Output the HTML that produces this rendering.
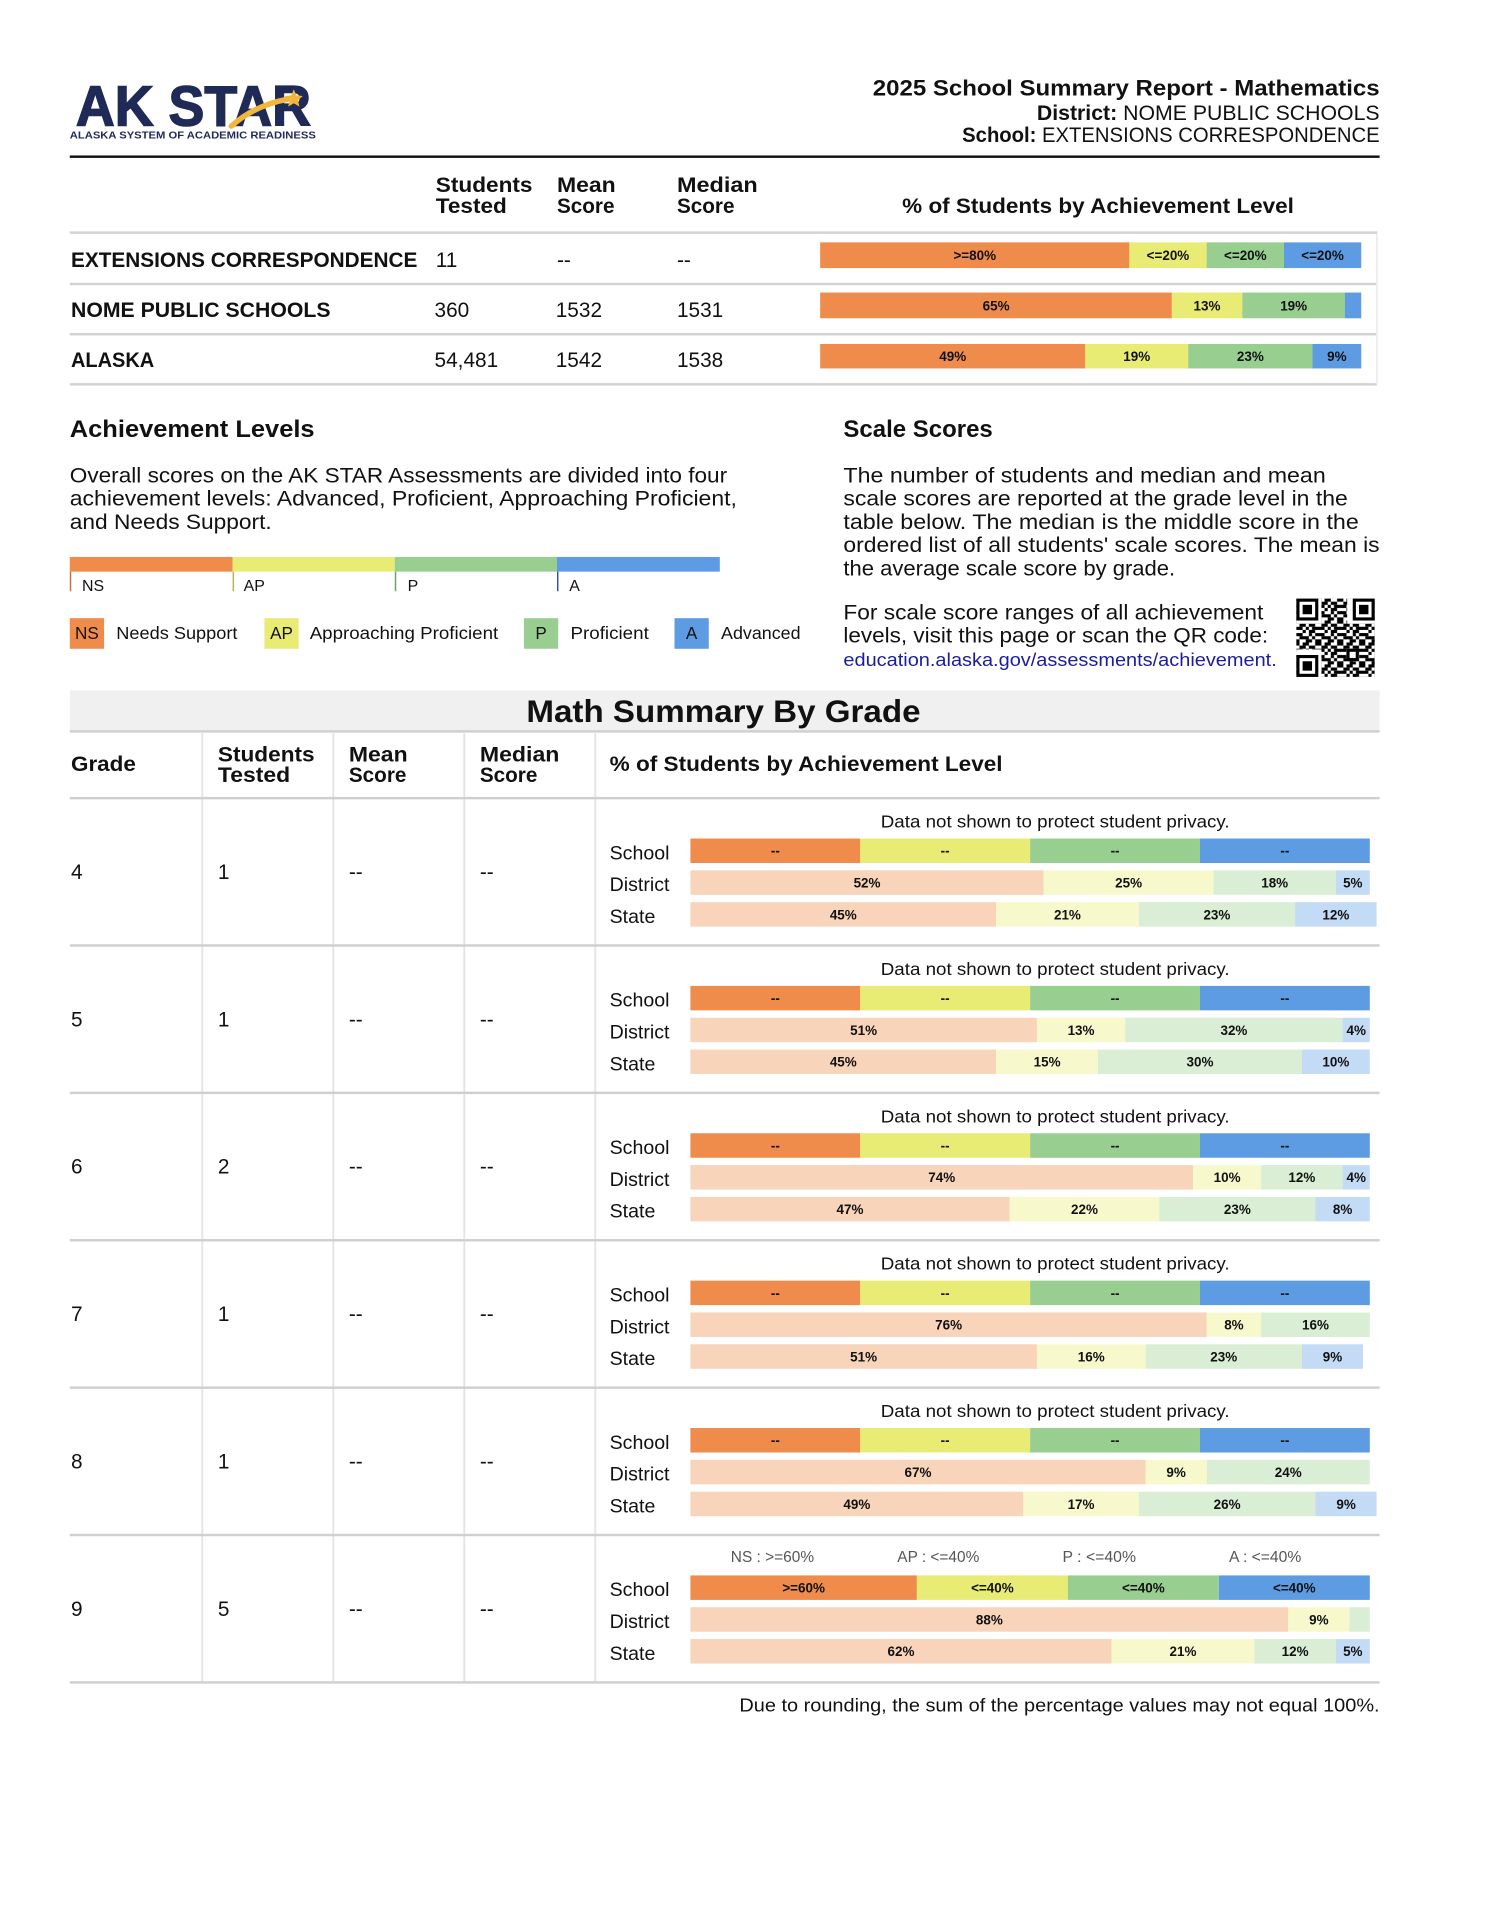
<!DOCTYPE html>
<html><head><meta charset="utf-8"><style>
html,body{margin:0;padding:0;background:#fff;}
svg{display:block;}
text{font-family:"Liberation Sans",Arial,sans-serif;fill:#111;}
.b{font-weight:bold;}
.l{font-size:11px;font-weight:bold;text-anchor:middle;}
.n{font-size:17px;}
.s16{font-size:16px;}
</style></head><body>
<svg xmlns="http://www.w3.org/2000/svg" width="1491" height="1920" viewBox="0 0 1218 1568.5" preserveAspectRatio="none">
<defs>
<pattern id="qr" x="1059" y="489" width="17.92" height="17.92" patternUnits="userSpaceOnUse">
<rect x="0" y="0" width="2.56" height="2.56" fill="#000"/><rect x="5.12" y="0" width="5.12" height="2.56" fill="#000"/><rect x="15.36" y="0" width="2.56" height="2.56" fill="#000"/>
<rect x="2.56" y="2.56" width="5.12" height="2.56" fill="#000"/><rect x="10.24" y="2.56" width="5.12" height="2.56" fill="#000"/>
<rect x="0" y="5.12" width="5.12" height="2.56" fill="#000"/><rect x="7.68" y="5.12" width="2.56" height="2.56" fill="#000"/><rect x="12.8" y="5.12" width="5.12" height="2.56" fill="#000"/>
<rect x="5.12" y="7.68" width="2.56" height="2.56" fill="#000"/><rect x="10.24" y="7.68" width="5.12" height="2.56" fill="#000"/>
<rect x="0" y="10.24" width="5.12" height="2.56" fill="#000"/><rect x="10.24" y="10.24" width="2.56" height="2.56" fill="#000"/><rect x="15.36" y="10.24" width="2.56" height="2.56" fill="#000"/>
<rect x="2.56" y="12.8" width="7.68" height="2.56" fill="#000"/><rect x="12.8" y="12.8" width="2.56" height="2.56" fill="#000"/>
<rect x="0" y="15.36" width="2.56" height="2.56" fill="#000"/><rect x="7.68" y="15.36" width="5.12" height="2.56" fill="#000"/><rect x="15.36" y="15.36" width="2.56" height="2.56" fill="#000"/>
</pattern>
</defs>
<rect x="0" y="0" width="1218" height="1568.5" fill="#fff"/>

<!-- Logo -->
<text x="62" y="102.5" class="b" style="font-size:46px;fill:#1f2a56;stroke:#1f2a56;stroke-width:1.2" textLength="192" lengthAdjust="spacingAndGlyphs">AK STAR</text>
<path d="M189,103 Q208,86 235,81" stroke="#F2B73A" stroke-width="4.5" fill="none" stroke-linecap="round"/>
<polygon points="240,73 242.1,77.9 247.4,78.4 243.4,81.9 244.6,87.1 240,84.3 235.4,87.1 236.6,81.9 232.6,78.4 237.9,77.9" fill="#F2B73A"/>
<text x="57" y="113" class="b" style="font-size:8px;fill:#1f2a56" textLength="201" lengthAdjust="spacingAndGlyphs">ALASKA SYSTEM OF ACADEMIC READINESS</text>

<!-- Header right -->
<text x="1127" y="78" text-anchor="end" class="b" style="font-size:18px" textLength="414" lengthAdjust="spacingAndGlyphs">2025 School Summary Report - Mathematics</text>
<text x="1127" y="98" text-anchor="end" style="font-size:17px" textLength="280" lengthAdjust="spacingAndGlyphs"><tspan font-weight="bold">District:</tspan> NOME PUBLIC SCHOOLS</text>
<text x="1127" y="116" text-anchor="end" style="font-size:17px" textLength="341" lengthAdjust="spacingAndGlyphs"><tspan font-weight="bold">School:</tspan> EXTENSIONS CORRESPONDENCE</text>
<rect x="57" y="127" width="1070" height="2" fill="#111"/>

<!-- Top table header -->
<g class="b" style="font-size:17px">
<text x="356" y="157" class="b" textLength="79" lengthAdjust="spacingAndGlyphs">Students</text>
<text x="356" y="174" class="b" textLength="58" lengthAdjust="spacingAndGlyphs">Tested</text>
<text x="455" y="157" class="b" textLength="48" lengthAdjust="spacingAndGlyphs">Mean</text>
<text x="455" y="174" class="b" textLength="47" lengthAdjust="spacingAndGlyphs">Score</text>
<text x="553" y="157" class="b" textLength="66" lengthAdjust="spacingAndGlyphs">Median</text>
<text x="553" y="174" class="b" textLength="47" lengthAdjust="spacingAndGlyphs">Score</text>
<text x="737" y="174" class="b" textLength="320" lengthAdjust="spacingAndGlyphs">% of Students by Achievement Level</text>
</g>
<g fill="#d2d2d2">
<rect x="57" y="189" width="1068" height="2"/>
<rect x="57" y="231" width="1068" height="2"/>
<rect x="57" y="272" width="1068" height="2"/>
<rect x="57" y="313" width="1068" height="2"/>
</g>
<rect x="1124" y="191" width="1.5" height="123" fill="#ececec"/>

<!-- Top rows -->
<text x="58" y="218" class="b n" textLength="283" lengthAdjust="spacingAndGlyphs">EXTENSIONS CORRESPONDENCE</text>
<text x="356" y="218" class="n">11</text>
<text x="455" y="218" class="n">--</text>
<text x="553" y="218" class="n">--</text>
<text x="58" y="259" class="b n" textLength="212" lengthAdjust="spacingAndGlyphs">NOME PUBLIC SCHOOLS</text>
<text x="355" y="259" class="n">360</text>
<text x="454" y="259" class="n">1532</text>
<text x="553" y="259" class="n">1531</text>
<text x="58" y="300" class="b n" textLength="68" lengthAdjust="spacingAndGlyphs">ALASKA</text>
<text x="355" y="300" class="n">54,481</text>
<text x="454" y="300" class="n">1542</text>
<text x="553" y="300" class="n">1538</text>

<!-- Top bars -->
<rect x="670" y="198" width="252.6" height="21" fill="#EF8B4B"/>
<rect x="922.6" y="198" width="63.2" height="21" fill="#E8EC74"/>
<rect x="985.7" y="198" width="63.2" height="21" fill="#98CF91"/>
<rect x="1048.9" y="198" width="63.1" height="21" fill="#5D9BE3"/>
<text x="796.3" y="212.5" class="l">&gt;=80%</text><text x="954.1" y="212.5" class="l">&lt;=20%</text><text x="1017.3" y="212.5" class="l">&lt;=20%</text><text x="1080.4" y="212.5" class="l">&lt;=20%</text>

<rect x="670" y="239" width="287.3" height="21" fill="#EF8B4B"/>
<rect x="957.3" y="239" width="57.5" height="21" fill="#E8EC74"/>
<rect x="1014.8" y="239" width="84" height="21" fill="#98CF91"/>
<rect x="1098.7" y="239" width="13.3" height="21" fill="#5D9BE3"/>
<text x="813.7" y="253.5" class="l">65%</text><text x="986" y="253.5" class="l">13%</text><text x="1056.8" y="253.5" class="l">19%</text>

<rect x="670" y="281" width="216.6" height="20" fill="#EF8B4B"/>
<rect x="886.6" y="281" width="84" height="20" fill="#E8EC74"/>
<rect x="970.6" y="281" width="101.7" height="20" fill="#98CF91"/>
<rect x="1072.2" y="281" width="39.8" height="20" fill="#5D9BE3"/>
<text x="778.3" y="295" class="l">49%</text><text x="928.6" y="295" class="l">19%</text><text x="1021.4" y="295" class="l">23%</text><text x="1092.1" y="295" class="l">9%</text>

<!-- Achievement Levels -->
<text x="57" y="357" class="b" style="font-size:20px" textLength="200" lengthAdjust="spacingAndGlyphs">Achievement Levels</text>
<text x="57" y="394" class="n" textLength="537" lengthAdjust="spacingAndGlyphs">Overall scores on the AK STAR Assessments are divided into four</text>
<text x="57" y="413" class="n" textLength="545" lengthAdjust="spacingAndGlyphs">achievement levels: Advanced, Proficient, Approaching Proficient,</text>
<text x="57" y="432" class="n" textLength="165" lengthAdjust="spacingAndGlyphs">and Needs Support.</text>

<rect x="57" y="455" width="133" height="12" fill="#EF8B4B"/>
<rect x="190" y="455" width="132.5" height="12" fill="#E8EC74"/>
<rect x="322.5" y="455" width="132.5" height="12" fill="#98CF91"/>
<rect x="455" y="455" width="133" height="12" fill="#5D9BE3"/>
<rect x="57" y="467" width="1.2" height="16" fill="#c9703a"/>
<rect x="190" y="467" width="1.2" height="16" fill="#b4b84a"/>
<rect x="322.5" y="467" width="1.2" height="16" fill="#6aa263"/>
<rect x="455" y="467" width="1.2" height="16" fill="#2d5a96"/>
<text x="67" y="483" style="font-size:13px">NS</text>
<text x="199" y="483" style="font-size:13px">AP</text>
<text x="333" y="483" style="font-size:13px">P</text>
<text x="465" y="483" style="font-size:13px">A</text>

<rect x="57" y="505" width="28" height="25" fill="#EF8B4B"/>
<text x="71" y="522" text-anchor="middle" style="font-size:14px">NS</text>
<text x="95" y="522" style="font-size:14px" textLength="99" lengthAdjust="spacingAndGlyphs">Needs Support</text>
<rect x="216" y="505" width="28" height="25" fill="#E8EC74"/>
<text x="230" y="522" text-anchor="middle" style="font-size:14px">AP</text>
<text x="253" y="522" style="font-size:14px" textLength="154" lengthAdjust="spacingAndGlyphs">Approaching Proficient</text>
<rect x="428" y="505" width="28" height="25" fill="#98CF91"/>
<text x="442" y="522" text-anchor="middle" style="font-size:14px">P</text>
<text x="466" y="522" style="font-size:14px" textLength="64" lengthAdjust="spacingAndGlyphs">Proficient</text>
<rect x="551" y="505" width="28" height="25" fill="#5D9BE3"/>
<text x="565" y="522" text-anchor="middle" style="font-size:14px">A</text>
<text x="589" y="522" style="font-size:14px" textLength="65" lengthAdjust="spacingAndGlyphs">Advanced</text>

<!-- Scale Scores -->
<text x="689" y="357" class="b" style="font-size:20px" textLength="122" lengthAdjust="spacingAndGlyphs">Scale Scores</text>
<text x="689" y="394" class="n" textLength="394" lengthAdjust="spacingAndGlyphs">The number of students and median and mean</text>
<text x="689" y="413" class="n" textLength="412" lengthAdjust="spacingAndGlyphs">scale scores are reported at the grade level in the</text>
<text x="689" y="432" class="n" textLength="421" lengthAdjust="spacingAndGlyphs">table below. The median is the middle score in the</text>
<text x="689" y="451" class="n" textLength="438" lengthAdjust="spacingAndGlyphs">ordered list of all students' scale scores. The mean is</text>
<text x="689" y="470" class="n" textLength="271" lengthAdjust="spacingAndGlyphs">the average scale score by grade.</text>
<text x="689" y="506" class="n" textLength="343" lengthAdjust="spacingAndGlyphs">For scale score ranges of all achievement</text>
<text x="689" y="525" class="n" textLength="347" lengthAdjust="spacingAndGlyphs">levels, visit this page or scan the QR code:</text>
<text x="689" y="544" style="font-size:15px;fill:#1c1c9c" textLength="354" lengthAdjust="spacingAndGlyphs">education.alaska.gov/assessments/achievement.</text>

<!-- QR -->
<rect x="1059" y="489" width="64" height="64" fill="url(#qr)"/>
<g>
<rect x="1059" y="489" width="20.5" height="20.5" fill="#fff"/>
<rect x="1100.5" y="489" width="22.5" height="20.5" fill="#fff"/>
<rect x="1059" y="530.5" width="20.5" height="22.5" fill="#fff"/>
<rect x="1059" y="489" width="17.92" height="17.92" fill="#000"/><rect x="1061.56" y="491.56" width="12.8" height="12.8" fill="#fff"/><rect x="1064.12" y="494.12" width="7.68" height="7.68" fill="#000"/>
<rect x="1105.08" y="489" width="17.92" height="17.92" fill="#000"/><rect x="1107.64" y="491.56" width="12.8" height="12.8" fill="#fff"/><rect x="1110.2" y="494.12" width="7.68" height="7.68" fill="#000"/>
<rect x="1059" y="535.08" width="17.92" height="17.92" fill="#000"/><rect x="1061.56" y="537.64" width="12.8" height="12.8" fill="#fff"/><rect x="1064.12" y="540.2" width="7.68" height="7.68" fill="#000"/>
<rect x="1100" y="530" width="10" height="10" fill="#000"/><rect x="1102.5" y="532.5" width="5" height="5" fill="#fff"/>
</g>

<!-- Math Summary By Grade -->
<rect x="57" y="564" width="1070" height="33" fill="#f0f0f0"/>
<text x="591" y="590" text-anchor="middle" class="b" style="font-size:26px" textLength="322" lengthAdjust="spacingAndGlyphs">Math Summary By Grade</text>
<rect x="57" y="596.5" width="1070" height="2" fill="#cfcfcf"/>

<g fill="#e4e4e4">
<rect x="164.5" y="598" width="1.5" height="776"/>
<rect x="271.5" y="598" width="1.5" height="776"/>
<rect x="378.5" y="598" width="1.5" height="776"/>
<rect x="485.5" y="598" width="1.5" height="776"/>
</g>

<text x="58" y="630" class="b n" textLength="53" lengthAdjust="spacingAndGlyphs">Grade</text>
<text x="178" y="622" class="b n" textLength="79" lengthAdjust="spacingAndGlyphs">Students</text>
<text x="178" y="639" class="b n" textLength="59" lengthAdjust="spacingAndGlyphs">Tested</text>
<text x="285" y="622" class="b n" textLength="48" lengthAdjust="spacingAndGlyphs">Mean</text>
<text x="285" y="639" class="b n" textLength="47" lengthAdjust="spacingAndGlyphs">Score</text>
<text x="392" y="622" class="b n" textLength="65" lengthAdjust="spacingAndGlyphs">Median</text>
<text x="392" y="639" class="b n" textLength="47" lengthAdjust="spacingAndGlyphs">Score</text>
<text x="498" y="630" class="b n" textLength="321" lengthAdjust="spacingAndGlyphs">% of Students by Achievement Level</text>

<g fill="#cfcfcf">
<rect x="57" y="651" width="1070" height="2"/>
<rect x="57" y="771.4" width="1070" height="2"/>
<rect x="57" y="891.8" width="1070" height="2"/>
<rect x="57" y="1012.2" width="1070" height="2"/>
<rect x="57" y="1132.6" width="1070" height="2"/>
<rect x="57" y="1253" width="1070" height="2"/>
<rect x="57" y="1373.4" width="1070" height="2"/>
</g>

<!-- Grade 4 -->
<g transform="translate(0,652)">
<text x="58" y="66" class="n">4</text><text x="178" y="66" class="n">1</text><text x="285" y="66" class="n">--</text><text x="392" y="66" class="n">--</text>
<text x="862" y="24" text-anchor="middle" style="font-size:14px" textLength="285" lengthAdjust="spacingAndGlyphs">Data not shown to protect student privacy.</text>
<text x="498" y="50" class="s16">School</text><text x="498" y="76" class="s16">District</text><text x="498" y="102" class="s16">State</text>
<rect x="564" y="33" width="138.75" height="20" fill="#EF8B4B"/><rect x="702.75" y="33" width="138.75" height="20" fill="#E8EC74"/><rect x="841.5" y="33" width="138.75" height="20" fill="#98CF91"/><rect x="980.25" y="33" width="138.75" height="20" fill="#5D9BE3"/>
<text x="633.4" y="47" class="l">--</text><text x="772.1" y="47" class="l">--</text><text x="910.9" y="47" class="l">--</text><text x="1049.6" y="47" class="l">--</text>
<rect x="564" y="59" width="288.6" height="20" fill="#F8D4BA"/><rect x="852.6" y="59" width="138.75" height="20" fill="#F7F9CC"/><rect x="991.35" y="59" width="99.9" height="20" fill="#D9EED5"/><rect x="1091.25" y="59" width="27.75" height="20" fill="#C4DBF6"/>
<text x="708.3" y="73" class="l">52%</text><text x="922" y="73" class="l">25%</text><text x="1041.3" y="73" class="l">18%</text><text x="1105.1" y="73" class="l">5%</text>
<rect x="564" y="85" width="249.75" height="20" fill="#F8D4BA"/><rect x="813.75" y="85" width="116.55" height="20" fill="#F7F9CC"/><rect x="930.3" y="85" width="127.65" height="20" fill="#D9EED5"/><rect x="1057.95" y="85" width="66.6" height="20" fill="#C4DBF6"/>
<text x="688.9" y="99" class="l">45%</text><text x="872" y="99" class="l">21%</text><text x="994.1" y="99" class="l">23%</text><text x="1091.25" y="99" class="l">12%</text>
</g>

<!-- Grade 5 -->
<g transform="translate(0,772.4)">
<text x="58" y="66" class="n">5</text><text x="178" y="66" class="n">1</text><text x="285" y="66" class="n">--</text><text x="392" y="66" class="n">--</text>
<text x="862" y="24" text-anchor="middle" style="font-size:14px" textLength="285" lengthAdjust="spacingAndGlyphs">Data not shown to protect student privacy.</text>
<text x="498" y="50" class="s16">School</text><text x="498" y="76" class="s16">District</text><text x="498" y="102" class="s16">State</text>
<rect x="564" y="33" width="138.75" height="20" fill="#EF8B4B"/><rect x="702.75" y="33" width="138.75" height="20" fill="#E8EC74"/><rect x="841.5" y="33" width="138.75" height="20" fill="#98CF91"/><rect x="980.25" y="33" width="138.75" height="20" fill="#5D9BE3"/>
<text x="633.4" y="47" class="l">--</text><text x="772.1" y="47" class="l">--</text><text x="910.9" y="47" class="l">--</text><text x="1049.6" y="47" class="l">--</text>
<rect x="564" y="59" width="283.05" height="20" fill="#F8D4BA"/><rect x="847.05" y="59" width="72.15" height="20" fill="#F7F9CC"/><rect x="919.2" y="59" width="177.6" height="20" fill="#D9EED5"/><rect x="1096.8" y="59" width="22.2" height="20" fill="#C4DBF6"/>
<text x="705.5" y="73" class="l">51%</text><text x="883.1" y="73" class="l">13%</text><text x="1008" y="73" class="l">32%</text><text x="1107.9" y="73" class="l">4%</text>
<rect x="564" y="85" width="249.75" height="20" fill="#F8D4BA"/><rect x="813.75" y="85" width="83.25" height="20" fill="#F7F9CC"/><rect x="897" y="85" width="166.5" height="20" fill="#D9EED5"/><rect x="1063.5" y="85" width="55.5" height="20" fill="#C4DBF6"/>
<text x="688.9" y="99" class="l">45%</text><text x="855.4" y="99" class="l">15%</text><text x="980.25" y="99" class="l">30%</text><text x="1091.25" y="99" class="l">10%</text>
</g>

<!-- Grade 6 -->
<g transform="translate(0,892.8)">
<text x="58" y="66" class="n">6</text><text x="178" y="66" class="n">2</text><text x="285" y="66" class="n">--</text><text x="392" y="66" class="n">--</text>
<text x="862" y="24" text-anchor="middle" style="font-size:14px" textLength="285" lengthAdjust="spacingAndGlyphs">Data not shown to protect student privacy.</text>
<text x="498" y="50" class="s16">School</text><text x="498" y="76" class="s16">District</text><text x="498" y="102" class="s16">State</text>
<rect x="564" y="33" width="138.75" height="20" fill="#EF8B4B"/><rect x="702.75" y="33" width="138.75" height="20" fill="#E8EC74"/><rect x="841.5" y="33" width="138.75" height="20" fill="#98CF91"/><rect x="980.25" y="33" width="138.75" height="20" fill="#5D9BE3"/>
<text x="633.4" y="47" class="l">--</text><text x="772.1" y="47" class="l">--</text><text x="910.9" y="47" class="l">--</text><text x="1049.6" y="47" class="l">--</text>
<rect x="564" y="59" width="410.7" height="20" fill="#F8D4BA"/><rect x="974.7" y="59" width="55.5" height="20" fill="#F7F9CC"/><rect x="1030.2" y="59" width="66.6" height="20" fill="#D9EED5"/><rect x="1096.8" y="59" width="22.2" height="20" fill="#C4DBF6"/>
<text x="769.35" y="73" class="l">74%</text><text x="1002.45" y="73" class="l">10%</text><text x="1063.5" y="73" class="l">12%</text><text x="1107.9" y="73" class="l">4%</text>
<rect x="564" y="85" width="260.85" height="20" fill="#F8D4BA"/><rect x="824.85" y="85" width="122.1" height="20" fill="#F7F9CC"/><rect x="946.95" y="85" width="127.65" height="20" fill="#D9EED5"/><rect x="1074.6" y="85" width="44.4" height="20" fill="#C4DBF6"/>
<text x="694.4" y="99" class="l">47%</text><text x="885.9" y="99" class="l">22%</text><text x="1010.8" y="99" class="l">23%</text><text x="1096.8" y="99" class="l">8%</text>
</g>

<!-- Grade 7 -->
<g transform="translate(0,1013.2)">
<text x="58" y="66" class="n">7</text><text x="178" y="66" class="n">1</text><text x="285" y="66" class="n">--</text><text x="392" y="66" class="n">--</text>
<text x="862" y="24" text-anchor="middle" style="font-size:14px" textLength="285" lengthAdjust="spacingAndGlyphs">Data not shown to protect student privacy.</text>
<text x="498" y="50" class="s16">School</text><text x="498" y="76" class="s16">District</text><text x="498" y="102" class="s16">State</text>
<rect x="564" y="33" width="138.75" height="20" fill="#EF8B4B"/><rect x="702.75" y="33" width="138.75" height="20" fill="#E8EC74"/><rect x="841.5" y="33" width="138.75" height="20" fill="#98CF91"/><rect x="980.25" y="33" width="138.75" height="20" fill="#5D9BE3"/>
<text x="633.4" y="47" class="l">--</text><text x="772.1" y="47" class="l">--</text><text x="910.9" y="47" class="l">--</text><text x="1049.6" y="47" class="l">--</text>
<rect x="564" y="59" width="421.8" height="20" fill="#F8D4BA"/><rect x="985.8" y="59" width="44.4" height="20" fill="#F7F9CC"/><rect x="1030.2" y="59" width="88.8" height="20" fill="#D9EED5"/>
<text x="774.9" y="73" class="l">76%</text><text x="1008" y="73" class="l">8%</text><text x="1074.6" y="73" class="l">16%</text>
<rect x="564" y="85" width="283.05" height="20" fill="#F8D4BA"/><rect x="847.05" y="85" width="88.8" height="20" fill="#F7F9CC"/><rect x="935.85" y="85" width="127.65" height="20" fill="#D9EED5"/><rect x="1063.5" y="85" width="49.95" height="20" fill="#C4DBF6"/>
<text x="705.5" y="99" class="l">51%</text><text x="891.45" y="99" class="l">16%</text><text x="999.7" y="99" class="l">23%</text><text x="1088.5" y="99" class="l">9%</text>
</g>

<!-- Grade 8 -->
<g transform="translate(0,1133.6)">
<text x="58" y="66" class="n">8</text><text x="178" y="66" class="n">1</text><text x="285" y="66" class="n">--</text><text x="392" y="66" class="n">--</text>
<text x="862" y="24" text-anchor="middle" style="font-size:14px" textLength="285" lengthAdjust="spacingAndGlyphs">Data not shown to protect student privacy.</text>
<text x="498" y="50" class="s16">School</text><text x="498" y="76" class="s16">District</text><text x="498" y="102" class="s16">State</text>
<rect x="564" y="33" width="138.75" height="20" fill="#EF8B4B"/><rect x="702.75" y="33" width="138.75" height="20" fill="#E8EC74"/><rect x="841.5" y="33" width="138.75" height="20" fill="#98CF91"/><rect x="980.25" y="33" width="138.75" height="20" fill="#5D9BE3"/>
<text x="633.4" y="47" class="l">--</text><text x="772.1" y="47" class="l">--</text><text x="910.9" y="47" class="l">--</text><text x="1049.6" y="47" class="l">--</text>
<rect x="564" y="59" width="371.85" height="20" fill="#F8D4BA"/><rect x="935.85" y="59" width="49.95" height="20" fill="#F7F9CC"/><rect x="985.8" y="59" width="133.2" height="20" fill="#D9EED5"/>
<text x="749.9" y="73" class="l">67%</text><text x="960.8" y="73" class="l">9%</text><text x="1052.4" y="73" class="l">24%</text>
<rect x="564" y="85" width="271.95" height="20" fill="#F8D4BA"/><rect x="835.95" y="85" width="94.35" height="20" fill="#F7F9CC"/><rect x="930.3" y="85" width="144.3" height="20" fill="#D9EED5"/><rect x="1074.6" y="85" width="49.95" height="20" fill="#C4DBF6"/>
<text x="700" y="99" class="l">49%</text><text x="883.1" y="99" class="l">17%</text><text x="1002.45" y="99" class="l">26%</text><text x="1099.6" y="99" class="l">9%</text>
</g>

<!-- Grade 9 -->
<g transform="translate(0,1254)">
<text x="58" y="66" class="n">9</text><text x="178" y="66" class="n">5</text><text x="285" y="66" class="n">--</text><text x="392" y="66" class="n">--</text>
<text x="597" y="22" style="font-size:12.5px;fill:#555" textLength="68" lengthAdjust="spacingAndGlyphs">NS : &gt;=60%</text>
<text x="733" y="22" style="font-size:12.5px;fill:#555" textLength="67" lengthAdjust="spacingAndGlyphs">AP : &lt;=40%</text>
<text x="868" y="22" style="font-size:12.5px;fill:#555" textLength="60" lengthAdjust="spacingAndGlyphs">P : &lt;=40%</text>
<text x="1004" y="22" style="font-size:12.5px;fill:#555" textLength="59" lengthAdjust="spacingAndGlyphs">A : &lt;=40%</text>
<text x="498" y="50" class="s16">School</text><text x="498" y="76" class="s16">District</text><text x="498" y="102" class="s16">State</text>
<rect x="564" y="33" width="185" height="20" fill="#EF8B4B"/><rect x="749" y="33" width="123.33" height="20" fill="#E8EC74"/><rect x="872.33" y="33" width="123.34" height="20" fill="#98CF91"/><rect x="995.67" y="33" width="123.33" height="20" fill="#5D9BE3"/>
<text x="656.5" y="47" class="l">&gt;=60%</text><text x="810.7" y="47" class="l">&lt;=40%</text><text x="934" y="47" class="l">&lt;=40%</text><text x="1057.3" y="47" class="l">&lt;=40%</text>
<rect x="564" y="59" width="488.4" height="20" fill="#F8D4BA"/><rect x="1052.4" y="59" width="49.95" height="20" fill="#F7F9CC"/><rect x="1102.35" y="59" width="16.65" height="20" fill="#D9EED5"/>
<text x="808.2" y="73" class="l">88%</text><text x="1077.4" y="73" class="l">9%</text>
<rect x="564" y="85" width="344.1" height="20" fill="#F8D4BA"/><rect x="908.1" y="85" width="116.55" height="20" fill="#F7F9CC"/><rect x="1024.65" y="85" width="66.6" height="20" fill="#D9EED5"/><rect x="1091.25" y="85" width="27.75" height="20" fill="#C4DBF6"/>
<text x="736" y="99" class="l">62%</text><text x="966.4" y="99" class="l">21%</text><text x="1058" y="99" class="l">12%</text><text x="1105.1" y="99" class="l">5%</text>
</g>

<text x="1127" y="1398" text-anchor="end" style="font-size:15px" textLength="523" lengthAdjust="spacingAndGlyphs">Due to rounding, the sum of the percentage values may not equal 100%.</text>
</svg>
</body></html>
